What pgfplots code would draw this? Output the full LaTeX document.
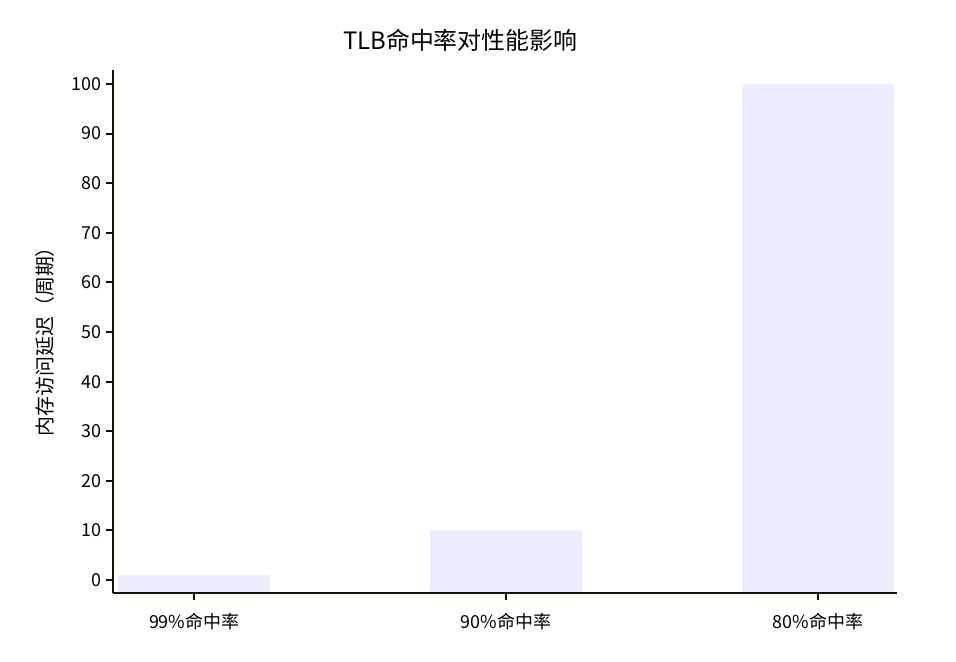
\documentclass[border=0pt]{standalone}
\usepackage{pgfplots}
\pgfplotsset{compat=1.18}
\usepackage{fontspec}
\setmainfont{Noto Sans CJK SC}
\definecolor{barfill}{HTML}{ECECFF}
\definecolor{axisline}{HTML}{131300}
\begin{document}
\begin{tikzpicture}
\useasboundingbox (0,0) rectangle (956bp,662bp);
\begin{axis}[
    at={(113bp,69bp)}, anchor=south west,
    scale only axis,
    width=784bp, height=523bp,
    xmin=-0.26, xmax=2.253,
    ymin=-2.6, ymax=102.8,
    y coord trafo/.code={\pgfmathparse{#1+2.6}},
    y coord inv trafo/.code={\pgfmathparse{#1-2.6}},
    axis x line*=bottom, axis y line*=left,
    axis on top,
    axis line style={draw=axisline, line width=2.2bp},
    xtick={0,1,2},
    xticklabels={99\%命中率, 90\%命中率, 80\%命中率},
    ytick={0,10,...,100},
    yticklabels={0,10,20,30,40,50,60,70,80,90,100},
    tick align=outside,
    major tick length=7bp,
    tick style={draw=axisline, line width=2bp},
    ticklabel style={font=\fontsize{18}{21}\selectfont, text=black},
    yticklabel style={xshift=-1bp},
    xticklabel style={yshift=-10bp},
    title={TLB命中率对性能影响},
    title style={font=\fontsize{24}{29}\selectfont, at={(axis description cs:0.443,1.045)}, anchor=center},
    ylabel={内存访问延迟（周期）},
    ylabel style={font=\fontsize{20}{24}\selectfont, at={(axis description cs:-0.087,0.49)}, anchor=center},
    clip=false,
]
\addplot[ybar, bar width=152bp, bar shift=0pt, fill=barfill, draw=none]
    coordinates {
        (0,1)
        (1,10)
        (2,100)
    };
\end{axis}
\end{tikzpicture}
\end{document}
